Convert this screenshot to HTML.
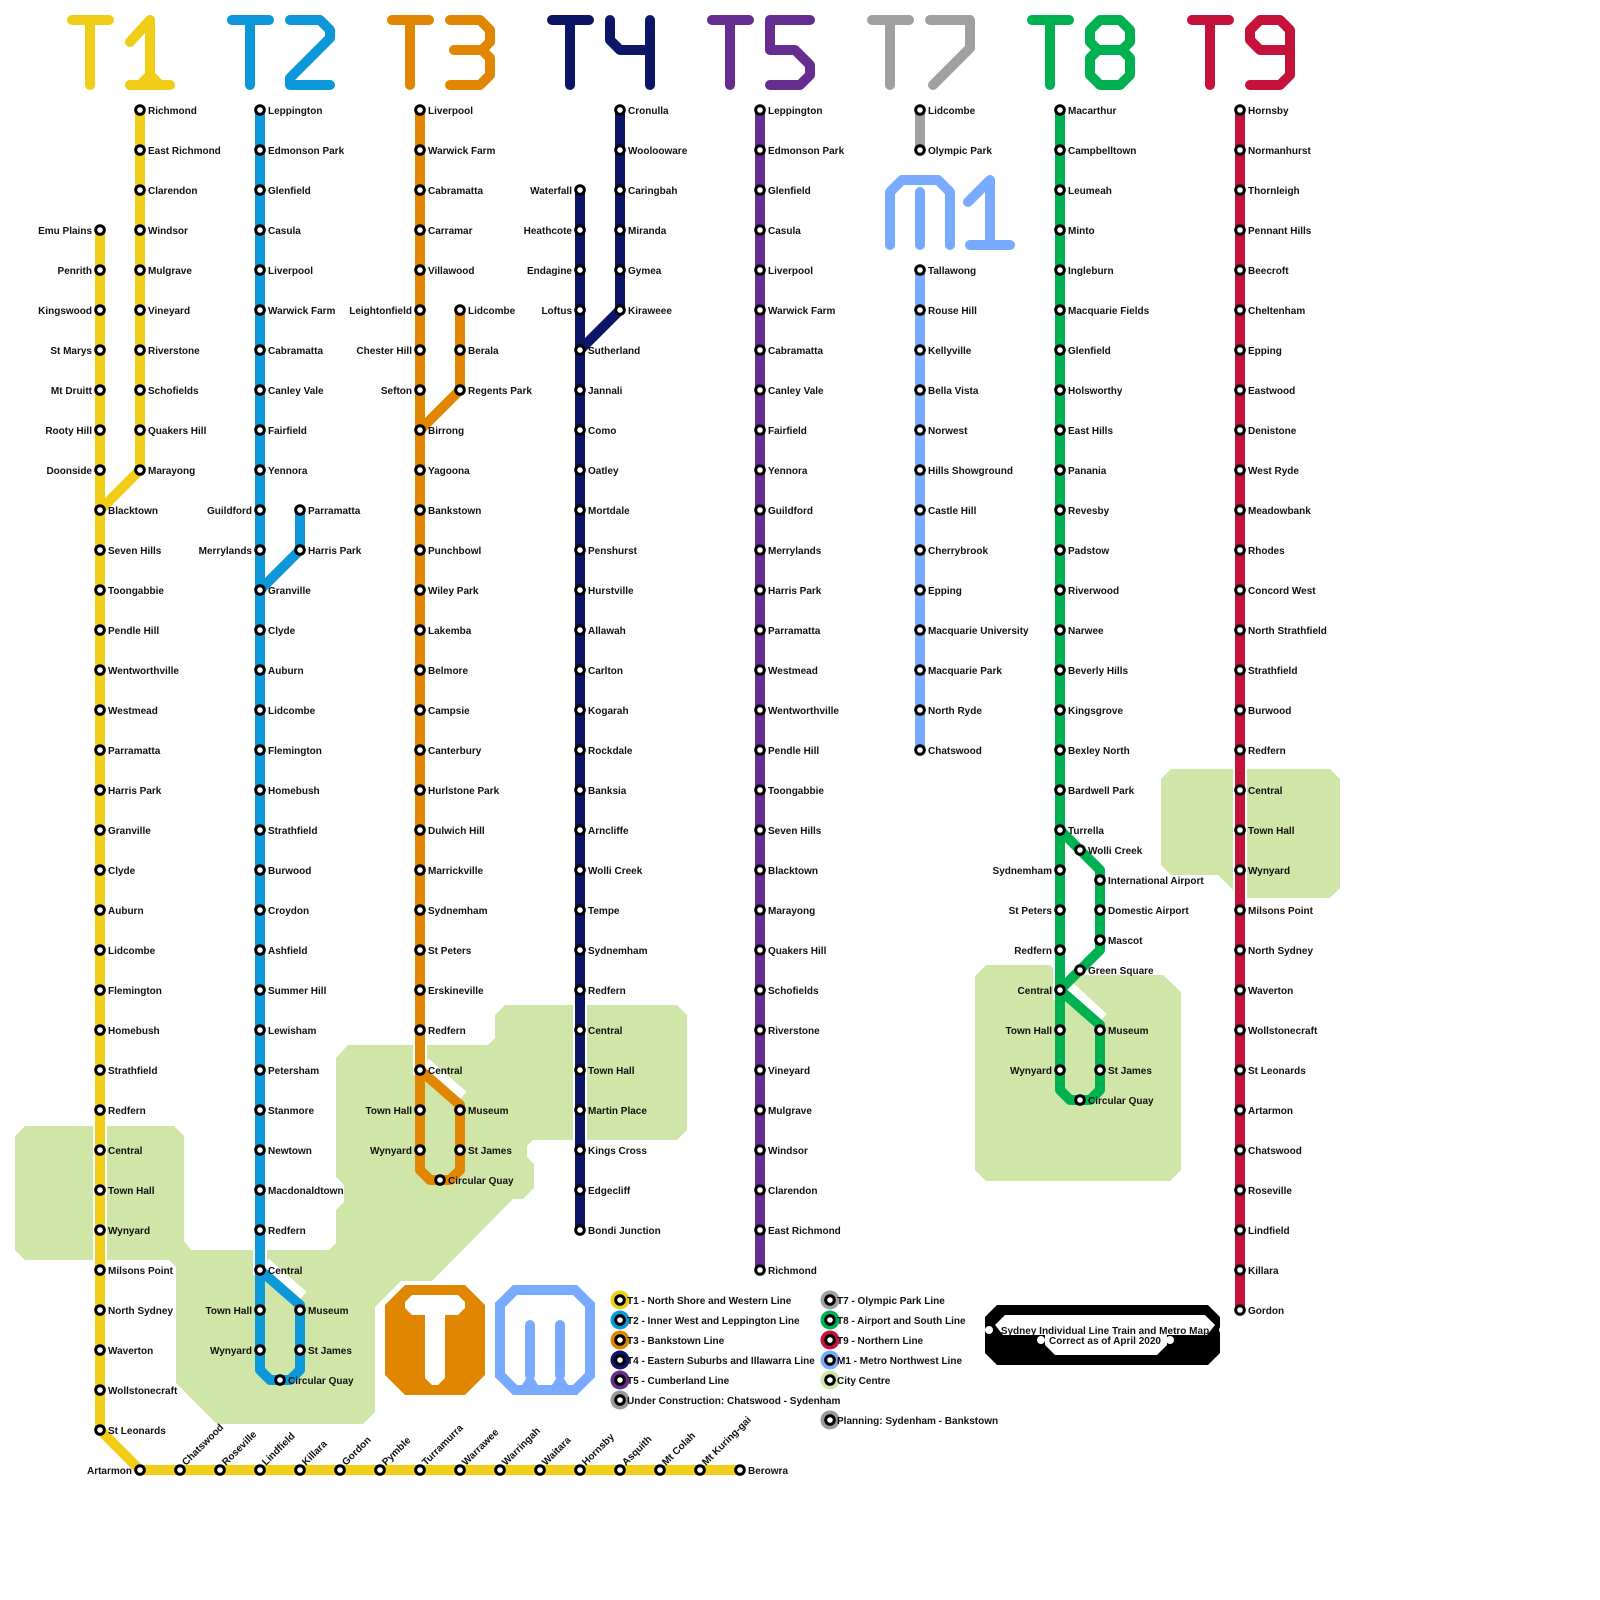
<!DOCTYPE html>
<html><head><meta charset="utf-8">
<style>
html,body{margin:0;padding:0;background:#fff;}
svg{display:block;}
text{font-family:"Liberation Sans",Arial,sans-serif;font-weight:bold;font-size:10px;fill:#111;}
</style></head>
<body>
<svg id="m" xmlns="http://www.w3.org/2000/svg" width="1600" height="1600" viewBox="0 0 1600 1600">
<rect width="1600" height="1600" fill="#fff"/>
<g fill="#d0e5a8">
<polygon points="15,1136 25,1126 174,1126 184,1136 184,1241 191,1250 329,1250 336,1243 336,1210 344,1202 344,1185 336,1177 336,1058 348,1045 488,1045 495,1038 495,1015 505,1005 677,1005 687,1015 687,1130 677,1140 533,1140 527,1146 527,1157 534,1164 534,1188 523,1199 513,1199 432,1281 401,1281 375,1307 375,1412 363,1424 217,1424 176,1383 176,1267 169,1260 25,1260 15,1250"/>
<polygon points="975,976 986,965 1050,965 1060,975 1163,975 1181,992 1181,1170 1170,1181 986,1181 975,1170"/>
<polygon points="1161,779 1171,769 1330,769 1340,779 1340,888 1330,898 1241,898 1218,875 1171,875 1161,865"/>
</g>
<g fill="none" stroke="#fff" stroke-width="14">
<path d="M100,1120 V1265"/>
<path d="M264,1264 L302,1297"/>
<path d="M424,1064 L462,1097"/>
<path d="M1064,984 L1102,1019"/>
<path d="M1060,960 V1000"/>
<path d="M1240,760 V905"/>
<path d="M580,995 V1145"/>
<path d="M420,1040 V1075"/>
<path d="M260,1245 V1275"/>
</g>
<g id="lines" fill="none" stroke-width="10" stroke-linejoin="round"></g>
<g id="hdr" fill="none" stroke-width="10" stroke-linecap="round" stroke-linejoin="round"></g>
<polygon points="405,1285 465,1285 485,1305 485,1375 465,1395 405,1395 385,1375 385,1305" fill="#e08600"/>
<path d="M412,1295 H458 L465,1302 V1308 L458,1315 H445 V1378 L438,1385 H432 L425,1378 V1315 H412 L405,1308 V1302 Z" fill="#fff"/>
<polygon points="515,1290 575,1290 590,1305 590,1375 575,1390 515,1390 500,1375 500,1305" fill="none" stroke="#78aaff" stroke-width="10"/>
<path d="M530,1325 V1375 M560,1325 V1375" fill="none" stroke="#78aaff" stroke-width="10" stroke-linecap="round"/>
<path d="M522,1385 L530,1372 L538,1385 Z M552,1385 L560,1372 L568,1385 Z" fill="#78aaff"/>
<polygon points="997,1305 1208,1305 1220,1317 1220,1353 1208,1365 997,1365 985,1353 985,1317" fill="#000"/>
<path d="M1005,1315 H1205 L1215,1325 L1207,1335 H1167 V1345 L1157,1355 H1055 L1045,1345 V1335 H1003 L995,1325 Z" fill="#fff"/>
<g fill="#fff"><circle cx="989" cy="1330" r="4"/><circle cx="1041" cy="1340" r="4"/><circle cx="1170" cy="1340" r="4"/><circle cx="1223" cy="1330" r="4"/></g>
<text x="1105" y="1334" text-anchor="middle">Sydney Individual Line Train and Metro Map</text>
<text x="1105" y="1344" text-anchor="middle">Correct as of April 2020</text>
<g id="stn"></g>
<g id="lab"></g>
</svg>
<script>
var NS="http://www.w3.org/2000/svg";
function el(p,t,a,txt){var e=document.createElementNS(NS,t);for(var k in a)e.setAttribute(k,a[k]);if(txt!=null)e.textContent=txt;document.getElementById(p).appendChild(e);return e;}
var C={T1:"#f0cd17",T2:"#0b97d8",T3:"#e08600",T4:"#0c1566",T5:"#662d91",T7:"#a0a0a0",T8:"#00b152",T9:"#c4123b",M1:"#78aaff"};
function R(n){return 110+40*n;}
var paths=[
["T1","M140,110 V470 L100,510"],["T1","M100,230 V1430 L140,1470 H740"],
["T2","M260,110 V1270 L300,1305 V1370 L290,1380 H270 L260,1370 V1270"],["T2","M300,510 V550 L260,590"],
["T3","M420,110 V1070 L460,1105 V1170 L450,1180 H430 L420,1170 V1070"],["T3","M460,310 V390 L420,430"],
["T4","M620,110 V310 L580,350"],["T4","M580,190 V1230"],
["T5","M760,110 V1270"],["T7","M920,110 V150"],["M1","M920,270 V750"],
["T8","M1060,110 V1090 L1070,1100 H1090 L1100,1090 V1025 L1060,990"],["T8","M1060,830 L1100,870 V950 L1060,990"],
["T9","M1240,110 V1310"]];
paths.forEach(function(p){el("lines","path",{d:p[1],stroke:C[p[0]]});});
var digits={
"1":"M63,42 L83,20 V85 M63,85 H103 M73,85 L83,75 L93,85",
"2":"M63,20 H93 L103,30 V38 L63,78 V85 H103",
"3":"M63,20 H93 L103,30 V42 L95,50 H67 M95,50 L103,58 V75 L93,85 H63",
"4":"M63,20 V40 L73,50 H103 M103,20 V85",
"5":"M103,20 H63 V50 H88 L103,65 V75 L93,85 H63",
"7":"M63,20 H103 V48 L66,85",
"8":"M73,20 H93 L103,30 V42 L95,50 L103,58 V75 L93,85 H73 L63,75 V58 L71,50 L63,42 V30 Z M71,50 H95",
"9":"M103,50 H73 L63,40 V30 L73,20 H93 L103,30 V75 L93,85 H63"};
var hs=[["T1","1"],["T2","2"],["T3","3"],["T4","4"],["T5","5"],["T7","7"],["T8","8"],["T9","9"]];
hs.forEach(function(h,i){var x0=67+160*i;
 var d=("M5,20 H42 M23,20 V85 "+digits[h[1]]).replace(/([MLHVZ])\s*(-?[\d.]+)(,(-?[\d.]+))?/g,function(m,c,a,b,bb){
  if(c=="M"||c=="L")return c+(+a+x0)+","+bb; if(c=="H")return "H"+(+a+x0); return m;});
 el("hdr","path",{d:d,stroke:C[h[0]]});});
el("hdr","path",{d:"M890,245 V192 L902,180 H938 L950,192 V245 M920,192 V245 M968,202 L990,180 V245 M970,245 H1010",stroke:C.M1});
var S=[];
function col(x,r0,names,side){names.forEach(function(n,i){S.push([x,R(r0+i),n,side]);});}
col(140,0,["Richmond","East Richmond","Clarendon","Windsor","Mulgrave","Vineyard","Riverstone","Schofields","Quakers Hill","Marayong"],"r");
col(100,3,["Emu Plains","Penrith","Kingswood","St Marys","Mt Druitt","Rooty Hill","Doonside"],"l");
col(100,10,["Blacktown","Seven Hills","Toongabbie","Pendle Hill","Wentworthville","Westmead","Parramatta","Harris Park","Granville","Clyde","Auburn","Lidcombe","Flemington","Homebush","Strathfield","Redfern","Central","Town Hall","Wynyard","Milsons Point","North Sydney","Waverton","Wollstonecraft","St Leonards"],"r");
S.push([140,1470,"Artarmon","l"]);
["Chatswood","Roseville","Lindfield","Killara","Gordon","Pymble","Turramurra","Warrawee","Warringah","Waitara","Hornsby","Asquith","Mt Colah","Mt Kuring-gai"].forEach(function(n,i){S.push([180+40*i,1470,n,"rot"]);});
S.push([740,1470,"Berowra","r"]);
col(260,0,["Leppington","Edmonson Park","Glenfield","Casula","Liverpool","Warwick Farm","Cabramatta","Canley Vale","Fairfield","Yennora"],"r");
col(260,10,["Guildford","Merrylands"],"l");
col(300,10,["Parramatta","Harris Park"],"r");
col(260,12,["Granville","Clyde","Auburn","Lidcombe","Flemington","Homebush","Strathfield","Burwood","Croydon","Ashfield","Summer Hill","Lewisham","Petersham","Stanmore","Newtown","Macdonaldtown","Redfern","Central"],"r");
col(260,30,["Town Hall","Wynyard"],"l");col(300,30,["Museum","St James"],"r");S.push([280,1380,"Circular Quay","r"]);
col(420,0,["Liverpool","Warwick Farm","Cabramatta","Carramar","Villawood"],"r");
col(420,5,["Leightonfield","Chester Hill","Sefton"],"l");
col(460,5,["Lidcombe","Berala","Regents Park"],"r");
col(420,8,["Birrong","Yagoona","Bankstown","Punchbowl","Wiley Park","Lakemba","Belmore","Campsie","Canterbury","Hurlstone Park","Dulwich Hill","Marrickville","Sydnemham","St Peters","Erskineville","Redfern","Central"],"r");
col(420,25,["Town Hall","Wynyard"],"l");col(460,25,["Museum","St James"],"r");S.push([440,1180,"Circular Quay","r"]);
col(620,0,["Cronulla","Woolooware","Caringbah","Miranda","Gymea","Kiraweee"],"r");
col(580,2,["Waterfall","Heathcote","Endagine","Loftus"],"l");
col(580,6,["Sutherland","Jannali","Como","Oatley","Mortdale","Penshurst","Hurstville","Allawah","Carlton","Kogarah","Rockdale","Banksia","Arncliffe","Wolli Creek","Tempe","Sydnemham","Redfern","Central","Town Hall","Martin Place","Kings Cross","Edgecliff","Bondi Junction"],"r");
col(760,0,["Leppington","Edmonson Park","Glenfield","Casula","Liverpool","Warwick Farm","Cabramatta","Canley Vale","Fairfield","Yennora","Guildford","Merrylands","Harris Park","Parramatta","Westmead","Wentworthville","Pendle Hill","Toongabbie","Seven Hills","Blacktown","Marayong","Quakers Hill","Schofields","Riverstone","Vineyard","Mulgrave","Windsor","Clarendon","East Richmond","Richmond"],"r");
col(920,0,["Lidcombe","Olympic Park"],"r");
col(920,4,["Tallawong","Rouse Hill","Kellyville","Bella Vista","Norwest","Hills Showground","Castle Hill","Cherrybrook","Epping","Macquarie University","Macquarie Park","North Ryde","Chatswood"],"r");
col(1060,0,["Macarthur","Campbelltown","Leumeah","Minto","Ingleburn","Macquarie Fields","Glenfield","Holsworthy","East Hills","Panania","Revesby","Padstow","Riverwood","Narwee","Beverly Hills","Kingsgrove","Bexley North","Bardwell Park","Turrella"],"r");
col(1060,19,["Sydnemham","St Peters","Redfern","Central","Town Hall","Wynyard"],"l");
S.push([1080,850,"Wolli Creek","r"],[1100,880,"International Airport","r"],[1100,910,"Domestic Airport","r"],[1100,940,"Mascot","r"],[1080,970,"Green Square","r"],[1100,1030,"Museum","r"],[1100,1070,"St James","r"],[1080,1100,"Circular Quay","r"]);
col(1240,0,["Hornsby","Normanhurst","Thornleigh","Pennant Hills","Beecroft","Cheltenham","Epping","Eastwood","Denistone","West Ryde","Meadowbank","Rhodes","Concord West","North Strathfield","Strathfield","Burwood","Redfern","Central","Town Hall","Wynyard","Milsons Point","North Sydney","Waverton","Wollstonecraft","St Leonards","Artarmon","Chatswood","Roseville","Lindfield","Killara","Gordon"],"r");
function ring(x,y){el("stn","circle",{cx:x,cy:y,r:4.3,fill:"#fff",stroke:"#000","stroke-width":3});}
S.forEach(function(s){ring(s[0],s[1]);
 if(s[3]=="r")el("lab","text",{x:s[0]+8,y:s[1]+4},s[2]);
 else if(s[3]=="l")el("lab","text",{x:s[0]-8,y:s[1]+4,"text-anchor":"end"},s[2]);
 else el("lab","text",{x:s[0]+6,y:s[1]-4,transform:"rotate(-45 "+(s[0]+6)+" "+(s[1]-4)+")"},s[2]);});
var L=[[620,1300,C.T1,"T1 - North Shore and Western Line"],[620,1320,C.T2,"T2 - Inner West and Leppington Line"],[620,1340,C.T3,"T3 - Bankstown Line"],[620,1360,C.T4,"T4 - Eastern Suburbs and Illawarra Line"],[620,1380,C.T5,"T5 - Cumberland Line"],[620,1400,"#999","Under Construction: Chatswood - Sydenham"],
[830,1300,C.T7,"T7 - Olympic Park Line"],[830,1320,C.T8,"T8 - Airport and South Line"],[830,1340,C.T9,"T9 - Northern Line"],[830,1360,C.M1,"M1 - Metro Northwest Line"],[830,1380,"#d0e5a8","City Centre"],[830,1420,"#999","Planning: Sydenham - Bankstown"]];
L.forEach(function(l){el("stn","circle",{cx:l[0],cy:l[1],r:9.5,fill:l[2]});ring(l[0],l[1]);el("lab","text",{x:l[0]+7,y:l[1]+4},l[3]);});
</script>
</body></html>
